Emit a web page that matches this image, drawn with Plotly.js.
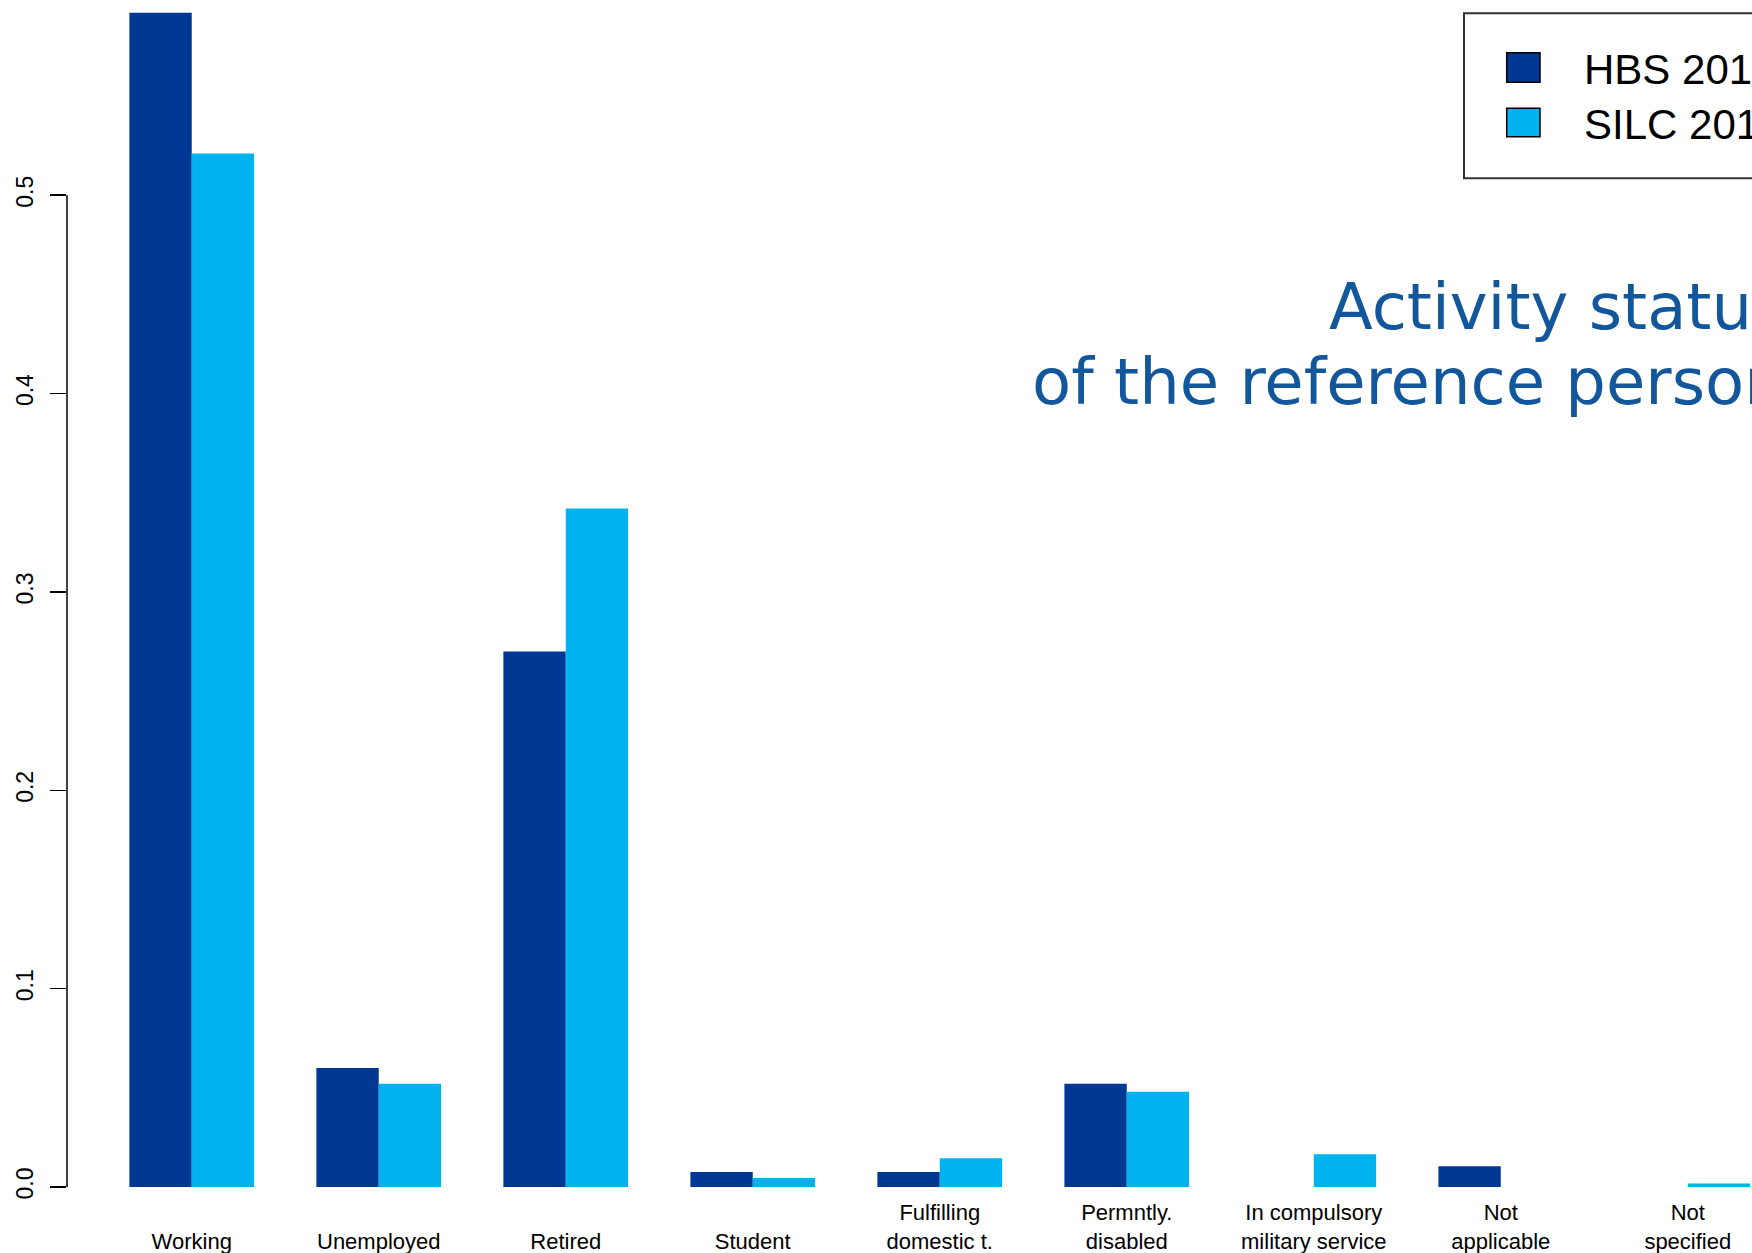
<!DOCTYPE html>
<html>
<head>
<meta charset="utf-8">
<script src="https://cdn.plot.ly/plotly-3.0.1.min.js"></script>
<style>
  html, body { margin: 0; padding: 0; overflow: hidden; background: #fff; }
  #chart { width: 1900px; height: 1253px; }
</style>
</head>
<body>
<div id="chart"></div>
<script>
// activity status of the reference person, share of households
const categories = ["Working", "Unemployed", "Retired", "Student", "Fulfilling domestic t.",
                    "Permntly. disabled", "In compulsory military service", "Not applicable", "Not specified"];
const tickLabels = ["Working", "Unemployed", "Retired", "Student", "Fulfilling<br>domestic t.",
                    "Permntly.<br>disabled", "In compulsory<br>military service", "Not<br>applicable", "Not<br>specified"];
const hbsValues  = [0.592, 0.060, 0.270, 0.0075, 0.0075, 0.052, 0.0, 0.0105, 0.0];
const silcValues = [0.521, 0.052, 0.342, 0.0045, 0.0145, 0.048, 0.0165, 0.0, 0.0018];
const seriesNames = ["HBS 2010", "SILC 2010"];
const yTicks = [0, 0.1, 0.2, 0.3, 0.4, 0.5];

const hbsColor = "#003893";
const silcColor = "#00b2ee";

// page geometry (pixels), used to place legend box and title
const W = 1900, H = 1253;
const M = {l: 67, r: 100, t: 0, b: 66.3};
const px = x => (x - M.l) / (W - M.l - M.r);
const py = y => (H - M.b - y) / (H - M.t - M.b);

// put single-line labels on the lower line, like the two-line ones
const ticktext = tickLabels.map(s => s.includes("<br>") ? s : "<br>" + s);

const traces = [
  {x: categories, y: hbsValues, type: "bar", name: seriesNames[0],
   marker: {color: hbsColor}, hoverinfo: "x+y"},
  {x: categories, y: silcValues, type: "bar", name: seriesNames[1],
   marker: {color: silcColor}, hoverinfo: "x+y"}
];

const legendFont = {family: "Liberation Sans, Arial, sans-serif", size: 42, color: "#000"};
const titleFont = {family: "DejaVu Sans, Verdana, sans-serif", size: 64, color: "#12579b"};

const layout = {
  width: W,
  height: H,
  margin: M,
  paper_bgcolor: "#fff",
  plot_bgcolor: "#fff",
  showlegend: false,
  barmode: "group",
  bargap: 0.333,
  bargroupgap: 0,
  xaxis: {
    type: "category",
    range: [-0.667, 8.6],
    tickvals: categories,
    ticktext: ticktext,
    showline: false,
    showgrid: false,
    zeroline: false,
    ticks: "",
    ticklabelstandoff: 10,
    automargin: false,
    tickfont: {family: "Liberation Sans, Arial, sans-serif", size: 22, color: "#000"}
  },
  yaxis: {
    range: [0, 0.5984],
    tickvals: yTicks,
    tickformat: ".1f",
    tickangle: -90,
    ticks: "outside",
    ticklen: 16.5,
    tickwidth: 1.5,
    tickcolor: "#000",
    ticklabelstandoff: 7,
    showline: false,
    showgrid: false,
    zeroline: false,
    automargin: false,
    tickfont: {family: "Liberation Sans, Arial, sans-serif", size: 23, color: "#000"}
  },
  shapes: [
    // R-style axis line, only over the labelled range
    {type: "line", xref: "paper", yref: "y", x0: 0, x1: 0, y0: 0, y1: 0.5,
     line: {color: "#000", width: 1.5}},
    // legend box and keys
    {type: "rect", xref: "paper", yref: "paper", x0: px(1464), x1: px(1895), y0: py(178.3), y1: py(13.3),
     line: {color: "#333", width: 2}, fillcolor: "rgba(0,0,0,0)"},
    {type: "rect", xref: "paper", yref: "paper", x0: px(1506.7), x1: px(1540), y0: py(82.3), y1: py(52.7),
     line: {color: "#000", width: 1.5}, fillcolor: hbsColor},
    {type: "rect", xref: "paper", yref: "paper", x0: px(1506.7), x1: px(1540), y0: py(136.7), y1: py(108.3),
     line: {color: "#000", width: 1.5}, fillcolor: silcColor}
  ],
  annotations: [
    {xref: "paper", yref: "paper", x: px(1582), y: py(69), xanchor: "left", yanchor: "middle",
     text: seriesNames[0], showarrow: false, font: legendFont},
    {xref: "paper", yref: "paper", x: px(1582), y: py(124), xanchor: "left", yanchor: "middle",
     text: seriesNames[1], showarrow: false, font: legendFont},
    {xref: "paper", yref: "paper", x: px(1787), y: py(307), xanchor: "right", yanchor: "middle",
     text: "Activity status", showarrow: false, font: titleFont},
    {xref: "paper", yref: "paper", x: px(1787), y: py(382), xanchor: "right", yanchor: "middle",
     text: "of the reference person", showarrow: false, font: titleFont}
  ]
};

Plotly.newPlot("chart", traces, layout, {staticPlot: true, displayModeBar: false});
</script>
</body>
</html>
